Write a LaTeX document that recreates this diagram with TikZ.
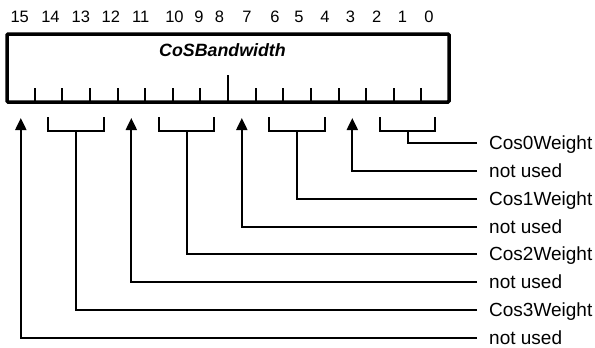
\documentclass[tikz,border=0pt]{standalone}
\usepackage{fontspec}
\setmainfont{Liberation Sans}
\usetikzlibrary{arrows.meta}
\begin{document}
\begin{tikzpicture}[x=1pt,y=-1pt,
  conn/.style={line width=2pt},
  arr/.style={conn,-{Triangle[length=12pt,width=11pt]}},
  lbl/.style={anchor=west,inner sep=0pt,text height=13.6pt,text depth=0pt,font=\fontsize{19}{22}\selectfont},
  bitnum/.style={anchor=base,inner sep=0pt,font=\fontsize{16.5}{18}\selectfont},
  regbox/.style={line width=3.5pt,rounded corners=1.2pt},
  tick/.style={line width=2pt}]
\useasboundingbox (0,0) rectangle (595,348);
% register box
\draw[regbox] (7,34) rectangle (449,102);
\node[anchor=base,inner sep=0pt,font=\fontsize{17.8}{20}\selectfont\bfseries\itshape] (title) at (222.5,56.7) {CoSBandwidth};
\foreach \k in {1,...,15}{
  \pgfmathsetmacro{\tx}{7+\k*27.625}
  \ifnum\k=8
    \draw[tick] (\tx,75) -- (\tx,102);
  \else
    \draw[tick] (\tx,88) -- (\tx,102);
  \fi
}
% bit numbers
\foreach \b/\xx in {15/19.7,14/50.5,13/80.8,12/110.8,11/140.8,10/174.5,9/199,8/219.5,7/247,6/275,5/299,4/325,3/350.5,2/376.7,1/402.5,0/429}{
  \node[bitnum] (n\b) at (\xx,22.7) {\b};
}
% bit centre coordinates
\foreach \i in {0,...,15}{
  \pgfmathsetmacro{\cx}{7+(15-\i+0.5)*27.625}
  \coordinate (top\i) at (\cx,117);
  \coordinate (tip\i) at (\cx,118);
  \coordinate (bot\i) at (\cx,131);
}
% labels
\node[lbl] (t0) at (489,143) {Cos0Weight};
\node[lbl] (t1) at (489,171) {not used};
\node[lbl] (t2) at (489,199) {Cos1Weight};
\node[lbl] (t3) at (489,227) {not used};
\node[lbl] (t4) at (489,254) {Cos2Weight};
\node[lbl] (t5) at (489,282) {not used};
\node[lbl] (t6) at (489,310) {Cos3Weight};
\node[lbl] (t7) at (489,338) {not used};
% brackets
\foreach \l/\r in {2/0,6/4,10/8,14/12}{
  \draw[conn] (top\l) -- (bot\l) -- (bot\r) -- (top\r);
}
% connectors
\draw[conn] ([xshift=-12pt]t0.west) -| (bot1);
\draw[arr]  ([xshift=-12pt]t1.west) -| (tip3);
\draw[conn] ([xshift=-12pt]t2.west) -| (bot5);
\draw[arr]  ([xshift=-12pt]t3.west) -| (tip7);
\draw[conn] ([xshift=-12pt]t4.west) -| (bot9);
\draw[arr]  ([xshift=-12pt]t5.west) -| (tip11);
\draw[conn] ([xshift=-12pt]t6.west) -| (bot13);
\draw[arr]  ([xshift=-12pt]t7.west) -| (tip15);
\end{tikzpicture}
\end{document}
